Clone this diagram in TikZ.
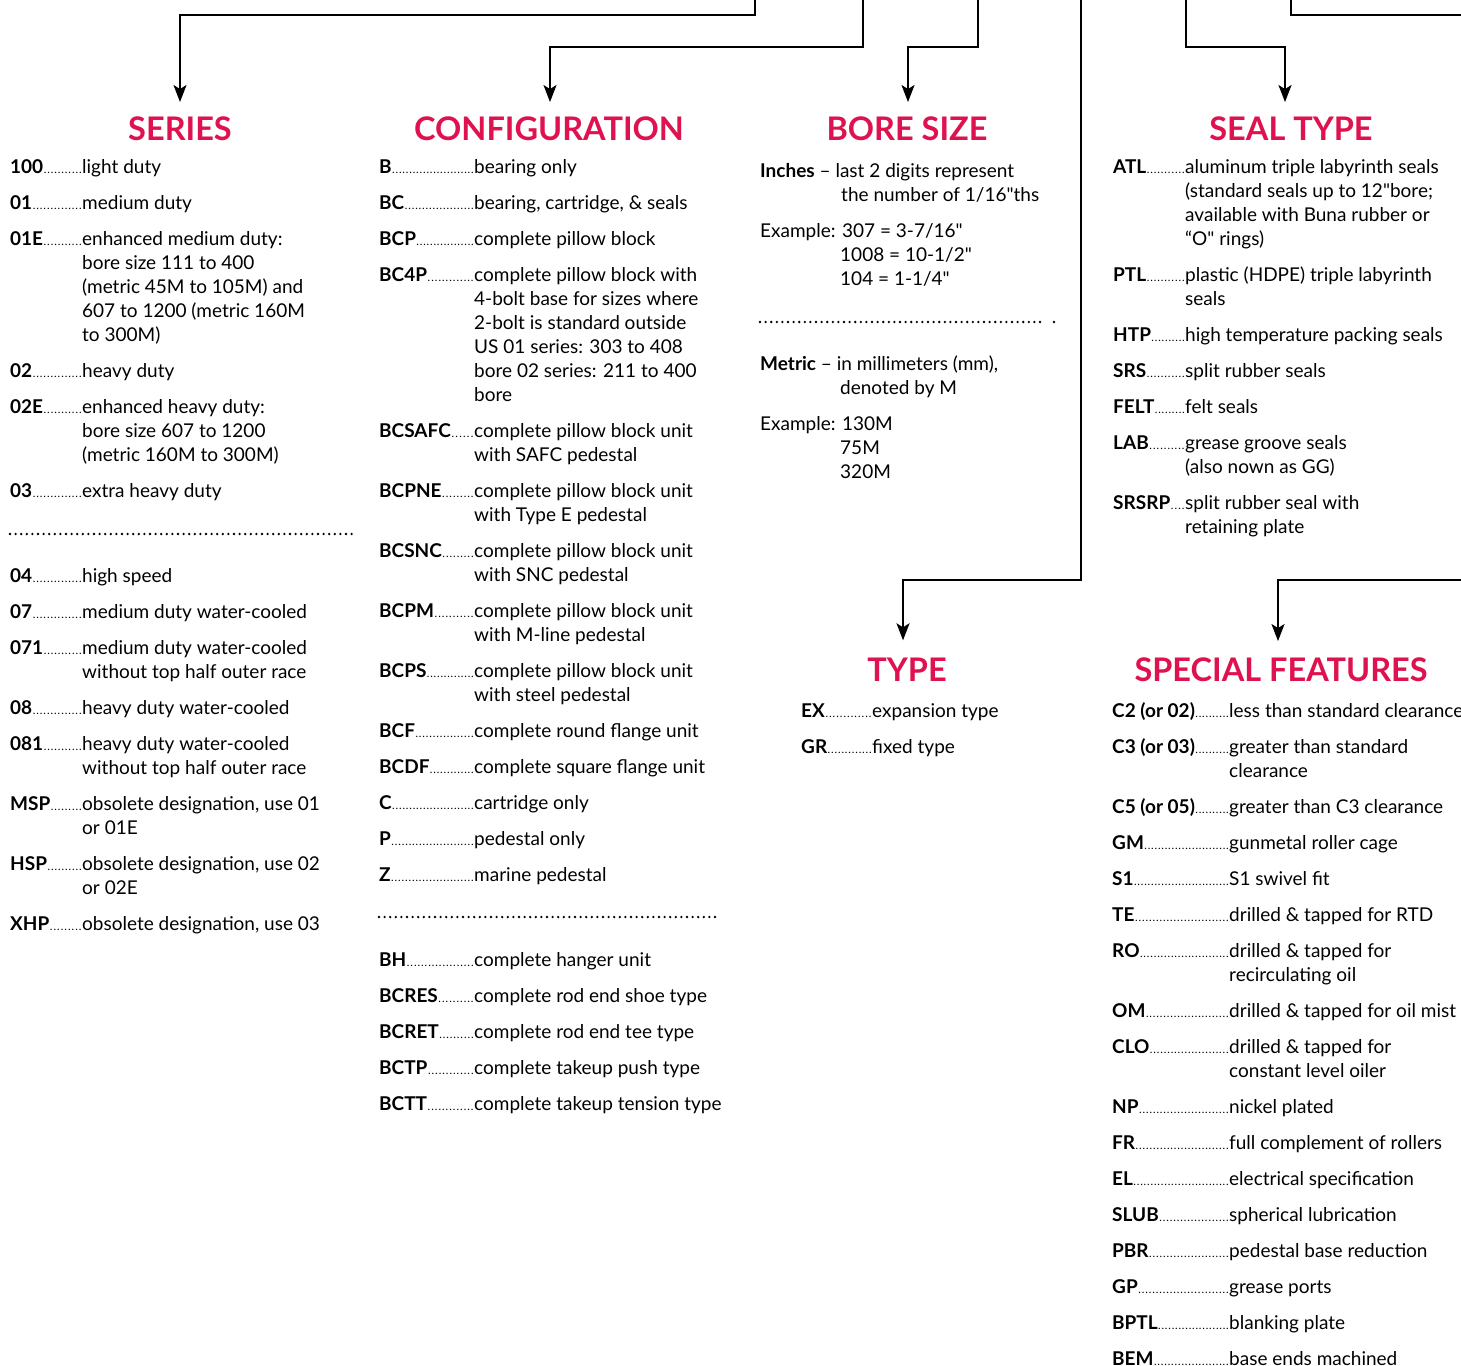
\documentclass[tikz,border=0pt]{standalone}
\usepackage{fontspec}
\setmainfont{Lato}
\usetikzlibrary{arrows.meta}
\definecolor{titlered}{RGB}{222,18,78}
\newcommand{\lead}{\xleaders\hbox to 3.4pt{\hss\fontsize{11}{11}\selectfont.\hss}\hfill}
\newcommand{\code}[2]{\hbox to #1pt{\textbf{#2}\lead}}
\newcommand{\desc}[1]{\begin{tabular}[t]{@{}l@{}}#1\end{tabular}}
\newcommand{\qd}{\textquotedbl}
\begin{document}
\begin{tikzpicture}[x=1pt,y=-1pt,
    item/.style={anchor=base west, inner sep=0pt, font=\fontsize{19}{24}\selectfont},
    title/.style={anchor=base, inner sep=0pt, text=titlered, font=\fontsize{32.5}{32}\selectfont\bfseries},
    link/.style={line width=2pt},
    arrow/.style={line width=2pt, -{Stealth[length=17pt,width=13pt,inset=4pt]}},
    sep/.style={line width=2.6pt, line cap=round, dash pattern=on 0pt off 5.6pt}]
  \useasboundingbox (0,0) rectangle (1461,1365);

  % Titulos
  \node[title] (ser) at (180,140) {SERIES};
  \node[title] (cfg) at (549,140) {CONFIGURATION};
  \node[title] (bore) at (907,140) {BORE SIZE};
  \node[title] (seal) at (1291,140) {SEAL TYPE};
  \node[title] (typ) at (907,681) {TYPE};
  \node[title] (spec) at (1281,681) {SPECIAL FEATURES};

  % Lineas de llegada
  \coordinate (p1) at (755,0);
  \coordinate (p2) at (863,0);
  \coordinate (p3) at (978,0);
  \coordinate (p4) at (1081,0);
  \coordinate (p5) at (1186,0);
  \coordinate (p6) at (1291,0);
  \coordinate (p7) at (1461,580);
  \draw[arrow] (p1) -- ++(0,15) -| ([yshift=14pt]ser.north);
  \draw[arrow] (p2) -- ++(0,47) -| ([xshift=1pt,yshift=14pt]cfg.north);
  \draw[arrow] (p3) -- ++(0,47) -| ([xshift=1pt,yshift=14pt]bore.north);
  \draw[arrow] (p4) -- ++(0,580) -| ([xshift=-4pt,yshift=17pt]typ.north);
  \draw[arrow] (p5) -- ++(0,47) -| ([xshift=-6pt,yshift=14pt]seal.north);
  \draw[link] (p6) -- ++(0,15) -- (1461,15);
  \draw[arrow] (p7) -| ([xshift=-3pt,yshift=16pt]spec.north);

  % Series
  \node[item] (s100) at (10,173) {\code{72}{100}light duty};
  \node[item] (s01) at (10,209) {\code{72}{01}medium duty};
  \node[item] (s01e) at (10,245) {\code{72}{01E}\desc{enhanced medium duty:\\bore size 111 to 400\\(metric 45M to 105M) and\\607 to 1200 (metric 160M\\to 300M)}};
  \node[item] (s02) at (10,377) {\code{72}{02}heavy duty};
  \node[item] (s02e) at (10,413) {\code{72}{02E}\desc{enhanced heavy duty:\\bore size 607 to 1200\\(metric 160M to 300M)}};
  \node[item] (s03) at (10,497) {\code{72}{03}extra heavy duty};
  \draw[sep] (10,534) -- (352,534);
  \node[item] (s04) at (10,582) {\code{72}{04}high speed};
  \node[item] (s07) at (10,618) {\code{72}{07}medium duty water-cooled};
  \node[item] (s071) at (10,654) {\code{72}{071}\desc{medium duty water-cooled\\without top half outer race}};
  \node[item] (s08) at (10,714) {\code{72}{08}heavy duty water-cooled};
  \node[item] (s081) at (10,750) {\code{72}{081}\desc{heavy duty water-cooled\\without top half outer race}};
  \node[item] (smsp) at (10,810) {\code{72}{MSP}\desc{obsolete designation, use 01\\or 01E}};
  \node[item] (shsp) at (10,870) {\code{72}{HSP}\desc{obsolete designation, use 02\\or 02E}};
  \node[item] (sxhp) at (10,930) {\code{72}{XHP}obsolete designation, use 03};

  % Configuration
  \node[item] (cb) at (379,173) {\code{95}{B}bearing only};
  \node[item] (cbc) at (379,209) {\code{95}{BC}bearing, cartridge, \& seals};
  \node[item] (cbcp) at (379,245) {\code{95}{BCP}complete pillow block};
  \node[item] (cbc4p) at (379,281) {\code{95}{BC4P}\desc{complete pillow block with\\4-bolt base for sizes where\\2-bolt is standard outside\\US 01 series: 303 to 408\\bore 02 series: 211 to 400\\bore}};
  \node[item] (csafc) at (379,437) {\code{95}{BCSAFC}\desc{complete pillow block unit\\with SAFC pedestal}};
  \node[item] (cpne) at (379,497) {\code{95}{BCPNE}\desc{complete pillow block unit\\with Type E pedestal}};
  \node[item] (csnc) at (379,557) {\code{95}{BCSNC}\desc{complete pillow block unit\\with SNC pedestal}};
  \node[item] (cpm) at (379,617) {\code{95}{BCPM}\desc{complete pillow block unit\\with M-line pedestal}};
  \node[item] (cps) at (379,677) {\code{95}{BCPS}\desc{complete pillow block unit\\with steel pedestal}};
  \node[item] (cbcf) at (379,737) {\code{95}{BCF}complete round flange unit};
  \node[item] (cbcdf) at (379,773) {\code{95}{BCDF}complete square flange unit};
  \node[item] (cc) at (379,809) {\code{95}{C}cartridge only};
  \node[item] (cp) at (379,845) {\code{95}{P}pedestal only};
  \node[item] (cz) at (379,881) {\code{95}{Z}marine pedestal};
  \draw[sep] (379,917) -- (720,917);
  \node[item] (cbh) at (379,966) {\code{95}{BH}complete hanger unit};
  \node[item] (cres) at (379,1002) {\code{95}{BCRES}complete rod end shoe type};
  \node[item] (cret) at (379,1038) {\code{95}{BCRET}complete rod end tee type};
  \node[item] (ctp) at (379,1074) {\code{95}{BCTP}complete takeup push type};
  \node[item] (ctt) at (379,1110) {\code{95}{BCTT}complete takeup tension type};

  % Bore size
  \node[item] (inch) at (760,177) {\textbf{Inches} -- last 2 digits represent};
  \node[item] (inch2) at (841,201) {the number of 1/16\qd ths};
  \node[item] (ex1) at (760,237) {Example: 307 = 3-7/16\qd};
  \node[item] (ex2) at (840,261) {1008 = 10-1/2\qd};
  \node[item] (ex3) at (840,285) {104 = 1-1/4\qd};
  \draw[sep] (760,322) -- (1043,322);
  \fill (1054,322) circle (1.3pt);
  \node[item] (met) at (760,370) {\textbf{Metric} -- in millimeters (mm),};
  \node[item] (met2) at (840,394) {denoted by M};
  \node[item] (ex4) at (760,430) {Example: 130M};
  \node[item] (ex5) at (840,454) {75M};
  \node[item] (ex6) at (840,478) {320M};

  % Seal type
  \node[item] (atl) at (1113,173) {\code{72}{ATL}\desc{aluminum triple labyrinth seals\\(standard seals up to 12\qd bore;\\available with Buna rubber or\\``O\qd\ rings)}};
  \node[item] (ptl) at (1113,281) {\code{72}{PTL}\desc{plastic (HDPE) triple labyrinth\\seals}};
  \node[item] (htp) at (1113,341) {\code{72}{HTP}high temperature packing seals};
  \node[item] (srs) at (1113,377) {\code{72}{SRS}split rubber seals};
  \node[item] (felt) at (1113,413) {\code{72}{FELT}felt seals};
  \node[item] (lab) at (1113,449) {\code{72}{LAB}\desc{grease groove seals\\(also nown as GG)}};
  \node[item] (srsrp) at (1113,509) {\code{72}{SRSRP}\desc{split rubber seal with\\retaining plate}};

  % Type
  \node[item] (ex) at (801,717) {\code{71}{EX}expansion type};
  \node[item] (gr) at (801,753) {\code{71}{GR}fixed type};

  % Special features
  \node[item] (fc2) at (1112,717) {\code{117}{C2 (or 02)}less than standard clearance};
  \node[item] (fc3) at (1112,753) {\code{117}{C3 (or 03)}\desc{greater than standard\\clearance}};
  \node[item] (fc5) at (1112,813) {\code{117}{C5 (or 05)}greater than C3 clearance};
  \node[item] (fgm) at (1112,849) {\code{117}{GM}gunmetal roller cage};
  \node[item] (fs1) at (1112,885) {\code{117}{S1}S1 swivel fit};
  \node[item] (fte) at (1112,921) {\code{117}{TE}drilled \& tapped for RTD};
  \node[item] (fro) at (1112,957) {\code{117}{RO}\desc{drilled \& tapped for\\recirculating oil}};
  \node[item] (fom) at (1112,1017) {\code{117}{OM}drilled \& tapped for oil mist};
  \node[item] (fclo) at (1112,1053) {\code{117}{CLO}\desc{drilled \& tapped for\\constant level oiler}};
  \node[item] (fnp) at (1112,1113) {\code{117}{NP}nickel plated};
  \node[item] (ffr) at (1112,1149) {\code{117}{FR}full complement of rollers};
  \node[item] (fel) at (1112,1185) {\code{117}{EL}electrical specification};
  \node[item] (fslub) at (1112,1221) {\code{117}{SLUB}spherical lubrication};
  \node[item] (fpbr) at (1112,1257) {\code{117}{PBR}pedestal base reduction};
  \node[item] (fgp) at (1112,1293) {\code{117}{GP}grease ports};
  \node[item] (fbptl) at (1112,1329) {\code{117}{BPTL}blanking plate};
  \node[item] (fbem) at (1112,1365) {\code{117}{BEM}base ends machined};
\end{tikzpicture}
\end{document}
